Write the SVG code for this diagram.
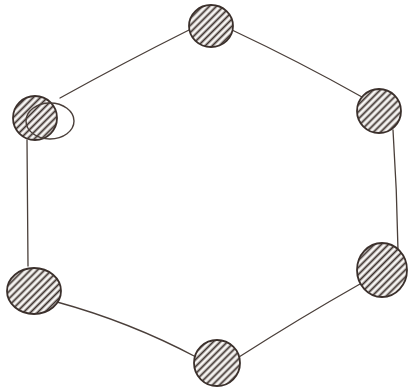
<svg xmlns="http://www.w3.org/2000/svg" width="412" height="387" viewBox="0 0 412 387">
<defs>
<pattern id="hatch" patternUnits="userSpaceOnUse" width="5" height="5" patternTransform="rotate(-45)">
<rect width="5" height="5" fill="#f7f5f3"/>
<line x1="0" y1="2.5" x2="5" y2="2.5" stroke="#3b302c" stroke-width="1.8"/>
</pattern>
<style>
.n{fill:url(#hatch);stroke:#3b302c;stroke-width:1.8}
.o{fill:none;stroke:#4a3f3a;stroke-width:1.4}
.e{fill:none;stroke:#4a3f3a;stroke-width:1.3;stroke-linecap:round}
</style>
</defs>
<rect width="412" height="387" fill="#ffffff"/>
<g id="connectors">
<path class="e" d="M232,30 Q300,62 362,97"/>
<path class="e" d="M189,30 Q125,62 60,98"/>
<path class="e" d="M27,140 L28,266"/>
<path class="e" d="M57,302 Q130,322 196,357"/>
<path class="e" d="M239,357 Q300,318 360,284"/>
<path class="e" d="M393,130 Q397,190 398,250"/>
</g>
<g id="node-top"><ellipse class="n" cx="211" cy="26" rx="22" ry="21"/></g>
<g id="node-upper-right"><ellipse class="n" cx="379" cy="111" rx="22" ry="22"/></g>
<g id="node-lower-right"><ellipse class="n" cx="382" cy="270" rx="25" ry="27"/></g>
<g id="node-bottom"><ellipse class="n" cx="217" cy="363" rx="23" ry="23"/></g>
<g id="node-lower-left"><ellipse class="n" cx="34" cy="291" rx="27" ry="23"/></g>
<g id="node-upper-left"><ellipse class="n" cx="35" cy="118" rx="22" ry="22"/><ellipse class="o" cx="50" cy="121" rx="24" ry="18"/></g>
</svg>
